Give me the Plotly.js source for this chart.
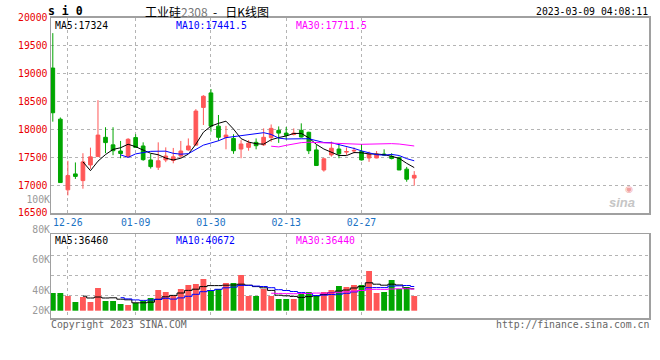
<!DOCTYPE html>
<html><head><meta charset="utf-8">
<script src="https://cdn.plot.ly/plotly-3.0.1.min.js"></script>
<style>html,body{margin:0;padding:0;background:#fff}#chart{width:660px;height:360px}</style>
</head><body><div id="chart"></div>
<script>
// ---------- data ----------
const dates = ['12-22','12-23','12-26','12-27','12-28','12-29','12-30','01-03','01-04','01-05','01-06','01-09','01-10','01-11','01-12','01-13','01-16','01-17','01-18','01-19','01-20','01-30','01-31','02-01','02-02','02-03','02-06','02-07','02-08','02-09','02-10','02-13','02-14','02-15','02-16','02-17','02-20','02-21','02-22','02-23','02-24','02-27','02-28','03-01','03-02','03-03','03-06','03-07','03-08'];
const openP  = [19095,18180,16915,17200,17080,17360,17510,17855,17720,17610,17510,17850,17700,17450,17320,17450,17440,17520,17630,17715,18390,18650,18055,17855,17835,17645,17675,17765,17720,17850,17980,17930,17905,17980,17945,17630,17270,17540,17645,17590,17610,17600,17485,17485,17555,17515,17490,17285,17125];
const highP  = [19720,18210,17435,17405,17570,17670,18520,18035,18035,17790,17840,17910,17765,17560,17765,17675,17665,17790,17835,18360,18610,18720,18255,18060,17910,17805,17805,17835,18015,18085,18050,18040,18015,18105,17955,17720,17490,17780,17735,17675,17675,17735,17600,17610,17640,17570,17510,17325,17250];
const lowP   = [18135,17045,16815,17110,16935,17290,17510,17570,17535,17480,17490,17675,17435,17295,17270,17410,17390,17485,17615,17715,18075,17955,17790,17640,17560,17480,17615,17640,17700,17775,17755,17815,17890,17850,17555,17350,17240,17510,17480,17540,17570,17440,17415,17480,17530,17460,17270,17060,16990];
const closeP = [18295,17045,17170,17155,17415,17505,17895,17760,17615,17565,17820,17675,17455,17330,17435,17520,17505,17610,17700,18325,18590,18055,17855,17895,17615,17735,17750,17705,17855,18015,17930,17890,17930,17860,17615,17350,17470,17660,17560,17600,17620,17450,17555,17555,17540,17475,17270,17105,17175];
const volume = [29560,29560,24550,14530,22880,14530,37910,16200,16200,11190,9520,12860,16200,21210,34570,31230,24550,36240,42920,44590,52940,32900,36240,46260,46260,59620,24550,24550,36240,24550,19540,19540,19540,27890,31230,26220,31230,34570,41250,39580,42920,42920,66300,29560,31230,51270,36240,39580,24550];

// moving-average lines (start at day 5, 10, 30)
const priceMA5  = [17416,17258,17428,17546,17638,17668,17731,17687,17626,17569,17543,17483,17449,17480,17554,17732,17946,18056,18105,18144,18002,17831,17770,17740,17732,17812,17851,17879,17924,17925,17845,17729,17645,17591,17531,17528,17582,17578,17557,17556,17544,17515,17479,17389,17313];
const priceMA10 = [17542,17495,17558,17586,17604,17606,17607,17568,17553,17562,17638,17715,17753,17793,17849,17867,17889,17913,17923,17938,17907,17841,17825,17832,17829,17829,17790,17762,17758,17728,17687,17656,17612,17574,17544,17536,17549,17529,17473,17435];
const priceMA30 = [17696,17683,17712,17737,17760,17767,17762,17748,17744,17743,17744,17737,17730,17733,17740,17744,17742,17735,17718,17700];
const volMA5  = [24216,21210,22880,21210,21544,19206,18204,13194,13194,14196,18872,23214,25552,29560,33902,35906,40248,41918,41918,42586,42920,44256,42586,40248,38244,33902,25886,24884,23882,22212,23548,24884,27222,30228,32900,34570,37910,40248,46594,44256,42586,44256,42920,37576,36574];
const volMA10 = [21711,19707,18037,17202,17870,19039,20709,19373,21377,24049,27389,31731,33735,35739,38244,39413,42252,42252,41083,40415,38411,35071,33735,32065,30228,28725,25385,26053,27055,27556,29059,31397,33735,38411,38578,38578,41083,41584,42085,40415];
const volMA30 = [29170,28836,28502,28335,28781,29059,29449,29226,29838,30673,31620,32733,33735,35405,35683,35572,36240,36630,36741,36129];

const dateTicks = ['12-26','01-09','01-30','02-13','02-27'];
const priceTicks = [16500,17000,17500,18000,18500,19000,19500,20000];
const priceTickText = ['16500','17000','17500','18000','18500','19000','19500','20000'];
const volTickLabels = ['100K','80K','60K','40K','20K'];
const maNames = ['MA5','MA10','MA30'];
const priceMALast = ['17324','17441.5','17711.5'];
const volMALast = ['36460','40672','36440'];
const titleName = '工业硅', titleCode = '2308', titleSuffix = '日K线图';
const symbolText = 's i 0';
const stampText = '2023-03-09 04:08:11';
const copyText = 'Copyright 2023 SINA.COM';
const urlText = 'http://finance.sina.com.cn';

// ---------- styling / geometry ----------
const H = 360, L = 51, R = 649;
const py = p => 1 - p / H;
const px = p => (p - L) / (R - L);
const RED = '#ff5757', GREEN = '#00a600';
const MACOL = ['#000000', '#0000ff', '#ff00ff'];
const FRAME = '#a0a0a0', GRID = '#b4b4b4';
const MONO = 'DejaVu Sans Mono, Liberation Mono, monospace';
const xr = [-0.24, 79.18];
const k = 1670, zeroPx = 310.7;            // volume px scale
const vAt = p => (zeroPx - p) * k;

const volColors = closeP.map((c, i) => c >= openP[i] ? RED : GREEN);

const traces = [
  {type:'candlestick', x:dates, open:openP, high:highP, low:lowP, close:closeP,
   xaxis:'x', yaxis:'y', whiskerwidth:0, hoverinfo:'skip',
   increasing:{line:{color:RED, width:1}, fillcolor:RED},
   decreasing:{line:{color:GREEN, width:1}, fillcolor:GREEN}},
  {type:'scatter', mode:'lines', x:dates.slice(4), y:priceMA5, xaxis:'x', yaxis:'y', line:{color:MACOL[0], width:1}, hoverinfo:'skip'},
  {type:'scatter', mode:'lines', x:dates.slice(9), y:priceMA10, xaxis:'x', yaxis:'y', line:{color:MACOL[1], width:1}, hoverinfo:'skip'},
  {type:'scatter', mode:'lines', x:dates.slice(29), y:priceMA30, xaxis:'x', yaxis:'y', line:{color:MACOL[2], width:1}, hoverinfo:'skip'},
  {type:'bar', x:dates, y:volume, xaxis:'x2', yaxis:'y2', width:0.78, marker:{color:volColors, line:{width:0}}, hoverinfo:'skip'},
  {type:'scatter', mode:'lines', x:dates.slice(4), y:volMA5, xaxis:'x2', yaxis:'y2', line:{color:MACOL[0], width:1, shape:'hvh'}, hoverinfo:'skip'},
  {type:'scatter', mode:'lines', x:dates.slice(9), y:volMA10, xaxis:'x2', yaxis:'y2', line:{color:MACOL[1], width:1, shape:'hvh'}, hoverinfo:'skip'},
  {type:'scatter', mode:'lines', x:dates.slice(29), y:volMA30, xaxis:'x2', yaxis:'y2', line:{color:MACOL[2], width:1, shape:'hvh'}, hoverinfo:'skip'},
  // carrier for the volume label axis (invisible)
  {type:'scatter', mode:'markers', x:dates, y:volume, xaxis:'x3', yaxis:'y3', marker:{opacity:0, size:1}, hoverinfo:'skip'}
];

const ann = [];
const addA = (text, x, y, xanchor, color, size, family) => ann.push({
  text, x, y, xref:'paper', yref:'paper', xanchor, yanchor:'middle', showarrow:false,
  font:{family: family || MONO, size: size || 9.8, color: color || '#000'}, borderpad:0
});
addA('<b>' + symbolText + '</b>', px(47), py(11), 'left', '#000', 11.5);
addA(titleName + '<span style="color:#777">' + titleCode + '</span>\u00a0\u00a0-\u00a0\u00a0\u00a0' + titleSuffix,
     px(207), py(11), 'center', '#000', 12, 'Noto Sans CJK SC');
addA(stampText, px(649), py(12), 'right', '#000', 9.8);
const maX = [54, 175, 295];
maNames.forEach((n, i) => {
  addA(n + ':' + priceMALast[i], px(maX[i]), py(25.5), 'left', MACOL[i], 9.8);
  addA(n + ':' + volMALast[i], px(maX[i]), py(240), 'left', MACOL[i], 9.8);
});
addA(copyText, px(50), py(324), 'left', '#666', 9.8);
addA(urlText, px(650), py(324), 'right', '#666', 9.8);
ann.push({text:'<b><i>sina</i></b>', x:px(636), y:py(202), xref:'paper', yref:'paper', showarrow:false,
  font:{family:'Liberation Sans, Arial', size:13, color:'#c6c6c6'}, borderpad:0});
ann.push({text:'◉', x:px(634), y:py(189), xref:'paper', yref:'paper', showarrow:false,
  font:{family:'DejaVu Sans', size:9, color:'#f0a0a0'}, borderpad:0});

const layout = {
  width:660, height:360, paper_bgcolor:'#fff', plot_bgcolor:'rgba(0,0,0,0)',
  margin:{l:L, r:660-R, t:0, b:0, pad:0}, showlegend:false, boxgap:0.3,
  xaxis:{type:'category', domain:[0,1], anchor:'y', range:xr, tickvals:dateTicks, ticktext:dateTicks,
    showgrid:true, gridcolor:GRID, griddash:'dot', gridwidth:1, showline:true, mirror:true,
    linecolor:FRAME, linewidth:1.5, ticks:'', zeroline:false, fixedrange:true,
    tickfont:{family:MONO, size:9.8, color:'#1a72c4'}, rangeslider:{visible:false}},
  yaxis:{domain:[py(213), py(17.5)], anchor:'x', range:[16500, 20000], tickvals:priceTicks, ticktext:priceTickText,
    showgrid:true, gridcolor:GRID, griddash:'dot', gridwidth:1, showline:true, mirror:true,
    linecolor:FRAME, linewidth:1.5, ticks:'', zeroline:false, fixedrange:true,
    tickfont:{family:MONO, size:9.8, color:'#e80000'}},
  xaxis2:{type:'category', domain:[0,1], anchor:'y2', range:xr, tickvals:dateTicks, showticklabels:false,
    showgrid:true, gridcolor:GRID, griddash:'dot', gridwidth:1, showline:true, mirror:true,
    linecolor:FRAME, linewidth:1.5, ticks:'', zeroline:false, fixedrange:true},
  yaxis2:{domain:[py(318), py(234)], anchor:'x2', range:[vAt(318), vAt(234)],
    tickvals:[vAt(255), vAt(275), vAt(295)], showticklabels:false,
    showgrid:true, gridcolor:GRID, griddash:'dot', gridwidth:1, showline:true, mirror:true,
    linecolor:FRAME, linewidth:1.5, ticks:'', zeroline:false, fixedrange:true},
  xaxis3:{type:'category', domain:[0,1], anchor:'y3', range:xr, visible:false, fixedrange:true},
  yaxis3:{domain:[py(318), py(195)], anchor:'x3', range:[vAt(318), vAt(195)],
    tickvals:[vAt(200), vAt(230), vAt(260), vAt(291), vAt(311)], ticktext:volTickLabels,
    showgrid:false, showline:false, zeroline:false, ticks:'', fixedrange:true,
    tickfont:{family:MONO, size:9.8, color:'#999'}},
  annotations: ann
};

Plotly.newPlot('chart', traces, layout, {staticPlot:true, displayModeBar:false});
</script>
</body></html>
